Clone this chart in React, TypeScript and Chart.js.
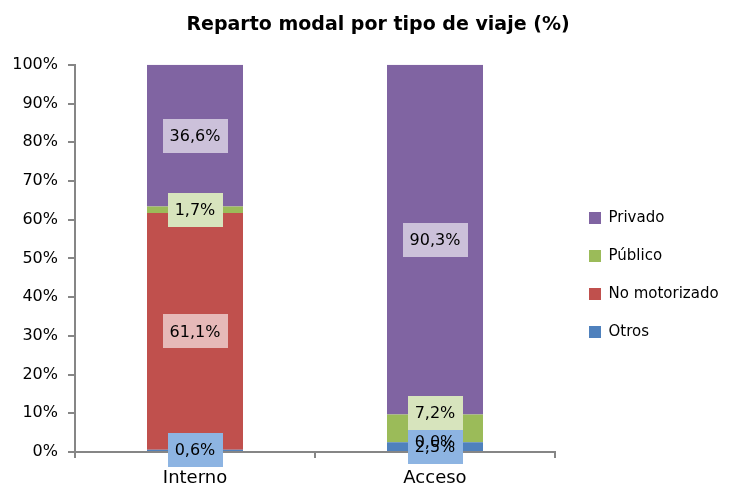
import React, { useEffect, useRef } from 'react';
import { Chart, registerables } from 'chart.js';

Chart.register(...registerables);

const categories = ['Interno', 'Acceso'];
const otros = [0.6, 2.5];
const noMotorizado = [61.1, 0.0];
const publico = [1.7, 7.2];
const privado = [36.6, 90.3];

const seriesNames = ['Otros', 'No motorizado', 'Público', 'Privado'];
const seriesColors = ['#4f81bd', '#c0504d', '#9bbb59', '#8064a2'];
const labelBoxColors = ['#8db4e2', '#e6b9b8', '#d7e4bd', '#ccc1da'];

const FONT = '"DejaVu Sans", sans-serif';

const LEGEND_WIDTH = 175;
const LEGEND_SHIFT_X = 11;
const LEGEND_SHIFT_Y = 31;
const TITLE_SHIFT_X = 13;
const BOX_H = 34;

const boxLabels = {
  id: 'boxLabels',
  afterDatasetsDraw(chart: any) {
    const ctx = chart.ctx;
    const n = chart.data.datasets.length;
    ctx.save();
    ctx.font = `16px ${FONT}`;
    ctx.textAlign = 'center';
    ctx.textBaseline = 'middle';
    const boxes: any[] = [];
    const count = chart.data.labels.length;
    for (let i = 0; i < count; i++) {
      let lastTop = Infinity;
      for (let d = 0; d < n; d++) {
        const bar: any = chart.getDatasetMeta(d).data[i];
        const v = chart.data.datasets[d].data[i] as number;
        const txt = v.toFixed(1).replace('.', ',') + '%';
        let cy = (bar.y + bar.base) / 2;
        if (v > 0) {
          if (cy + BOX_H / 2 > lastTop) cy = lastTop - BOX_H / 2;
          lastTop = cy - BOX_H / 2;
        }
        const w = ctx.measureText(txt).width + 14;
        boxes.push({ d, v, txt, x: bar.x, y: cy, w });
      }
    }
    const order = boxes.slice().sort((a, b) => {
      const za = a.v > 0 ? 1 : 0;
      const zb = b.v > 0 ? 1 : 0;
      if (za !== zb) return za - zb;
      return b.d - a.d;
    });
    order.forEach((b) => {
      ctx.fillStyle = labelBoxColors[b.d];
      ctx.fillRect(Math.round(b.x - b.w / 2), Math.round(b.y - BOX_H / 2), Math.round(b.w), BOX_H);
    });
    ctx.fillStyle = '#000';
    order.forEach((b) => ctx.fillText(b.txt, b.x, b.y + 1));
    ctx.restore();
  },
};

const placeBoxes = {
  id: 'placeBoxes',
  beforeLayout(chart: any) {
    const lg = chart.legend;
    if (lg && !lg.__patched) {
      const orig = lg.fit.bind(lg);
      lg.fit = function () {
        orig();
        this.width = LEGEND_WIDTH;
      };
      lg.__patched = true;
    }
  },
  afterLayout(chart: any) {
    const lg = chart.legend;
    if (lg) {
      lg.left += LEGEND_SHIFT_X;
      lg.right += LEGEND_SHIFT_X;
      lg.top += LEGEND_SHIFT_Y;
      lg.bottom += LEGEND_SHIFT_Y;
    }
    const tb = chart.titleBlock;
    if (tb) {
      tb.left += TITLE_SHIFT_X;
      tb.right += TITLE_SHIFT_X;
    }
  },
};

export default function App() {
  const ref = useRef<HTMLCanvasElement | null>(null);
  useEffect(() => {
    if (!ref.current) return;
    const data = [otros, noMotorizado, publico, privado];
    const chart = new Chart(ref.current, {
      type: 'bar',
      data: {
        labels: categories,
        datasets: data.map((d, i) => ({
          label: seriesNames[i],
          data: d,
          backgroundColor: seriesColors[i],
          borderWidth: 0,
          barPercentage: 0.4,
          categoryPercentage: 1,
        })),
      },
      options: {
        animation: false,
        responsive: true,
        maintainAspectRatio: false,
        layout: { padding: { left: 0, right: 0, top: 0, bottom: 0 } },
        plugins: {
          title: {
            display: true,
            text: 'Reparto modal por tipo de viaje (%)',
            color: '#000',
            font: { family: FONT, size: 19, weight: 'bold' },
            padding: { top: 14, bottom: 28 },
          },
          legend: {
            position: 'right',
            reverse: true,
            labels: {
              boxWidth: 12,
              boxHeight: 12,
              padding: 23,
              color: '#000',
              font: { family: FONT, size: 15 },
            },
          },
          tooltip: { enabled: false },
        },
        scales: {
          x: {
            stacked: true,
            border: { color: '#868686', width: 2 },
            grid: { drawOnChartArea: false, drawTicks: true, tickLength: 6, color: '#868686', lineWidth: 2 },
            ticks: { color: '#000', font: { family: FONT, size: 18 }, padding: 10 },
            afterFit: (s: any) => {
              s.height = 36;
            },
          },
          y: {
            stacked: true,
            min: 0,
            max: 100,
            border: { color: '#868686', width: 2 },
            grid: { drawOnChartArea: false, drawTicks: true, tickLength: 7, color: '#868686', lineWidth: 2 },
            ticks: {
              stepSize: 10,
              color: '#000',
              padding: 10,
              font: { family: FONT, size: 16 },
              callback: (v: any) => v + '%',
            },
            afterFit: (s: any) => {
              s.width = 75;
            },
          },
        },
      },
      plugins: [boxLabels, placeBoxes],
    });
    return () => chart.destroy();
  }, []);
  return (
    <div style={{ position: 'fixed', left: 0, top: 0, width: 730, height: 488 }}>
      <canvas ref={ref} />
    </div>
  );
}
